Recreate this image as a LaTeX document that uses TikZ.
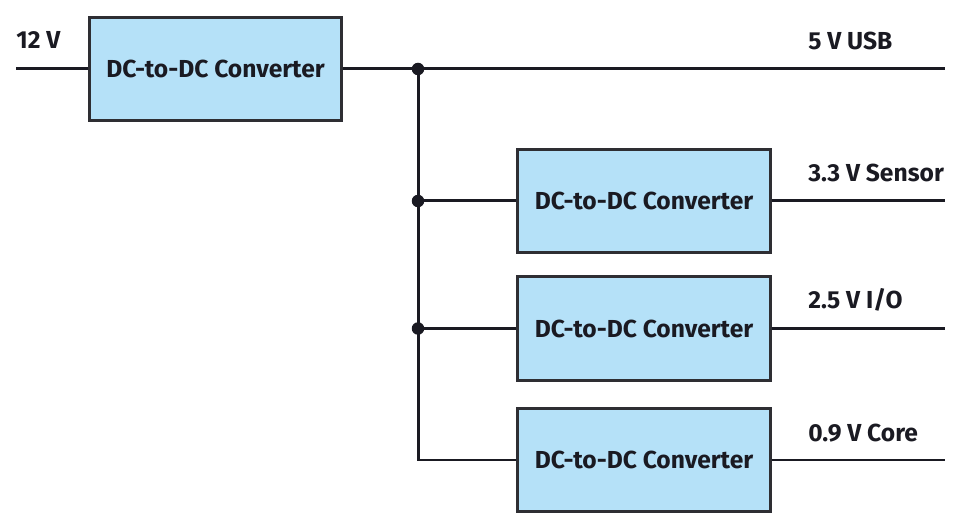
\documentclass[tikz,border=0pt]{standalone}
\usepackage{fontspec}
\setmainfont{Fira Sans}
\usetikzlibrary{positioning}
\definecolor{boxfill}{HTML}{B5E1F8}
\definecolor{boxline}{HTML}{2E2E33}
\definecolor{ink}{HTML}{1A1A22}
\begin{document}
\begin{tikzpicture}[x=0.02cm,y=-0.02cm]
    \newcommand{\busx}{418}
    \newcommand{\outx}{945}
    \newcommand{\lblx}{808}

    % styles for the converters and wires
    \tikzset{
        conv/.style={
            draw=boxline,
            fill=boxfill,
            line width=0.06cm,
            minimum width=5.06cm,
            minimum height=2.08cm,
            inner sep=0pt,
            text=ink,
            font=\bfseries\fontsize{14}{16}\selectfont
            },
        wire/.style={draw=ink, line width=0.06cm},
        junc/.style={circle, fill=ink, inner sep=0pt, minimum size=0.25cm},
        rail/.style={anchor=base west, inner sep=0pt, text=ink, font=\bfseries\fontsize{14}{16}\selectfont}
    }

    \useasboundingbox (0,0) rectangle (961,530);

    % converters
    \node[conv] (main) at (215.5,69) {DC-to-DC Converter};
    \node[conv] (sens) at (644,201) {DC-to-DC Converter};
    \node[conv] (io)   at (644,328.5) {DC-to-DC Converter};
    \node[conv] (core) at (644,460) {DC-to-DC Converter};

    % end points
    \coordinate (vin)  at (16,69);
    \coordinate (usb)  at (\outx,69);
    \coordinate (osens) at (\outx,201);
    \coordinate (oio)  at (\outx,328.5);
    \coordinate (ocore) at (\outx,460);
    \coordinate (bcore) at (\busx,460);

    % junctions
    \node[junc] (jusb)  at (\busx,69) {};
    \node[junc] (jsens) at (\busx,201) {};
    \node[junc] (jio)   at (\busx,328.5) {};

    % wires
    \draw[wire] (vin) -- (main.west);
    \draw[wire] (main.east) -- (jusb.center) -- (usb);
    \draw[wire] (jusb.center) -- (jsens.center) -- (jio.center) -- (bcore) -- (core.west);
    \draw[wire] (jsens.center) -- (sens.west);
    \draw[wire] (jio.center) -- (io.west);
    \draw[wire] (sens.east) -- (osens);
    \draw[wire] (io.east) -- (oio);
    \draw[wire] (core.east) -- (ocore);

    % labels
    \node[rail] (l12) at (16,49) {12 V};
    \node[rail] (l5)  at (\lblx,50) {5 V USB};
    \node[rail] (l33) at (\lblx,182) {3.3 V Sensor};
    \node[rail] (l25) at (\lblx,309) {2.5 V I/O};
    \node[rail] (l09) at (\lblx,441) {0.9 V Core};
\end{tikzpicture}
\end{document}
